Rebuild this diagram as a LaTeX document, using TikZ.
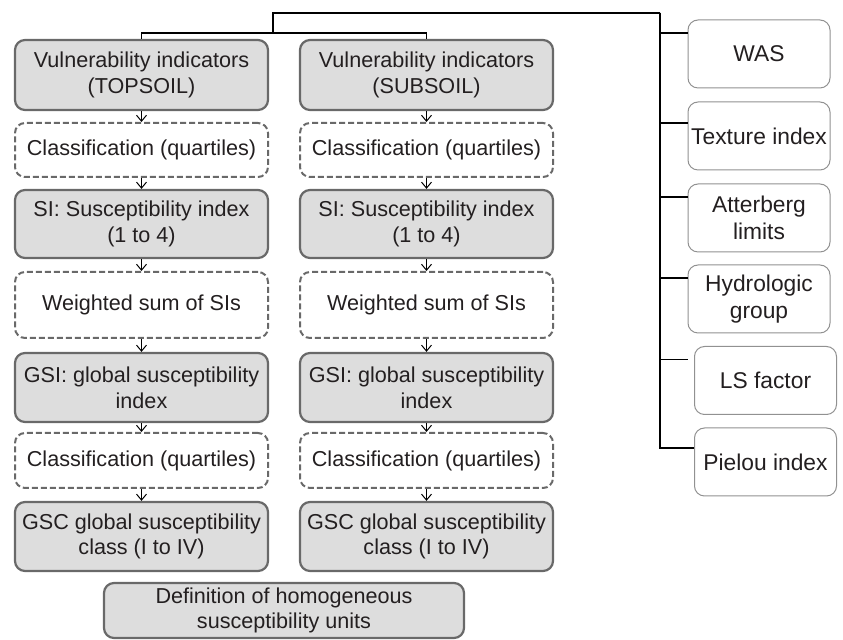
\documentclass[tikz,border=0pt]{standalone}
\usepackage{fontspec}
\setmainfont{Liberation Sans}
\usepackage{tikz}
\usetikzlibrary{positioning}
\usetikzlibrary{calc}
\usetikzlibrary{arrows.meta}
\definecolor{boxgray}{RGB}{221,221,221}
\definecolor{edgegray}{RGB}{105,105,105}
\definecolor{sidegray}{RGB}{145,145,145}
\definecolor{inkcol}{RGB}{35,31,32}
\tikzset{
  mainbox/.style={draw=edgegray, line width=1.1pt, fill=boxgray, rounded corners=5pt, align=center, minimum width=126.5pt, inner xsep=1pt, inner ysep=0pt},
  dashbox/.style={draw=edgegray, line width=1pt, dash pattern=on 3pt off 1.5pt, rounded corners=5pt, align=center, minimum width=126.5pt, inner sep=0pt},
  sidebox/.style={draw=sidegray, line width=0.5pt, rounded corners=5pt, align=center, minimum width=71pt, minimum height=34pt, inner xsep=0.5pt, font=\fontsize{11.4}{13.2}\selectfont},
  flow/.style={-{Straight Barb[length=3pt,width=5pt]}, line width=0.5pt},
  link/.style={line width=0.6pt}
}

\begin{document}
\begin{tikzpicture}[x=0.5pt, y=-0.5pt, font=\fontsize{10.8}{12.8}\selectfont, text=inkcol]
\useasboundingbox (0,0) rectangle (843,640);
% topsoil column
\node[mainbox, minimum height=35pt] (vt) at (141.5,75) {Vulnerability indicators\\(TOPSOIL)};
\node[dashbox, minimum height=27pt] (ct1) at (141.5,150) {Classification (quartiles)};
\node[mainbox, minimum height=34pt] (sit) at (141.5,224) {SI: Susceptibility index\\(1 to 4)};
\node[dashbox, minimum height=33pt] (wt) at (141.5,305) {Weighted sum of SIs};
\node[mainbox, minimum height=34.5pt] (gsit) at (141.5,387.5) {GSI: global susceptibility\\index};
\node[dashbox, minimum height=27.5pt] (ct2) at (141.5,460.5) {Classification (quartiles)};
\node[mainbox, minimum height=34.5pt] (gsct) at (141.5,536.5) {GSC global susceptibility\\class (I to IV)};
% subsoil column
\node[mainbox, minimum height=35pt] (vs) at (426.5,75) {Vulnerability indicators\\(SUBSOIL)};
\node[dashbox, minimum height=27pt] (cs1) at (426.5,150) {Classification (quartiles)};
\node[mainbox, minimum height=34pt] (sis) at (426.5,224) {SI: Susceptibility index\\(1 to 4)};
\node[dashbox, minimum height=33pt] (ws) at (426.5,305) {Weighted sum of SIs};
\node[mainbox, minimum height=34.5pt] (gsis) at (426.5,387.5) {GSI: global susceptibility\\index};
\node[dashbox, minimum height=27.5pt] (cs2) at (426.5,460.5) {Classification (quartiles)};
\node[mainbox, minimum height=34.5pt] (gscs) at (426.5,536.5) {GSC global susceptibility\\class (I to IV)};
% final box
\node[mainbox, minimum width=180pt, minimum height=27.5pt] (units) at (284,610.5) {Definition of homogeneous\\susceptibility units};
% indicators
\node[sidebox] (was) at (759,54) {WAS};
\node[sidebox] (tex) at (759,136) {Texture index};
\node[sidebox] (att) at (759,218) {Atterberg\\limits};
\node[sidebox] (hyd) at (759,299) {Hydrologic\\group};
\node[sidebox] (ls) at (765.5,380.5) {LS factor};
\node[sidebox] (pie) at (765.5,462) {Pielou index};
% arrows
\draw[flow] (vt) -- (ct1);
\draw[flow] (ct1) -- (sit);
\draw[flow] (sit) -- (wt);
\draw[flow] (wt) -- (gsit);
\draw[flow] (gsit) -- (ct2);
\draw[flow] (ct2) -- (gsct);
\draw[flow] (vs) -- (cs1);
\draw[flow] (cs1) -- (sis);
\draw[flow] (sis) -- (ws);
\draw[flow] (ws) -- (gsis);
\draw[flow] (gsis) -- (cs2);
\draw[flow] (cs2) -- (gscs);
% tree on top
\coordinate (split) at (273,33);
\coordinate (hub) at (660,13);
\draw[link] (vt.north) |- (split) -| (vs.north);
\draw[link] (split) |- (hub);
\foreach \n/\s in {was/10.5, tex/6.5, att/10.5, hyd/10.5, pie/7}
  \draw[link] (hub) |- ([yshift=\s pt]\n.west);
\draw[link] (hub) |- ([xshift=-3pt,yshift=10.5pt]ls.west);
\end{tikzpicture}
\end{document}
